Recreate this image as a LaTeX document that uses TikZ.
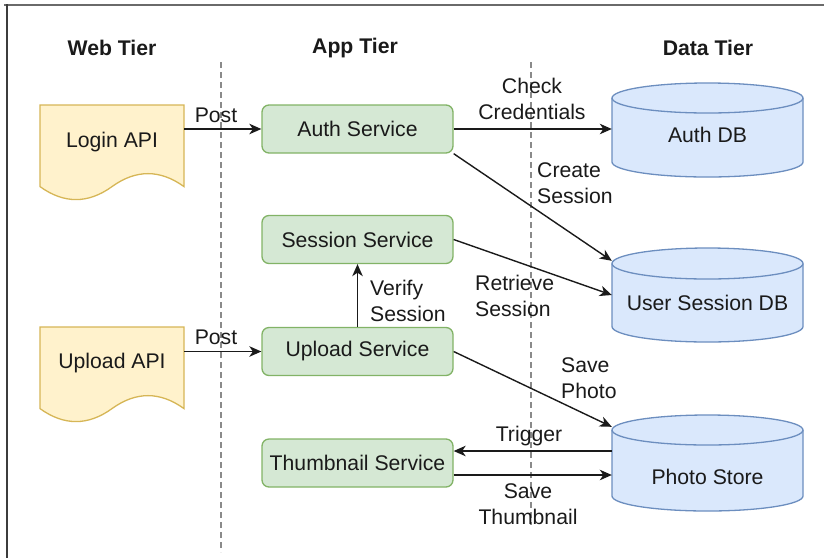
\documentclass[tikz,border=0pt]{standalone}
\usepackage{fontspec}
\setmainfont{Liberation Sans}
\usetikzlibrary{arrows.meta,calc}

\definecolor{docfill}{HTML}{FFF2CC}
\definecolor{docline}{HTML}{D6B656}
\definecolor{svcfill}{HTML}{D5E8D4}
\definecolor{svcline}{HTML}{82B366}
\definecolor{dbfill}{HTML}{DAE8FC}
\definecolor{dbline}{HTML}{6C8EBF}
\definecolor{ink}{HTML}{1A1A1A}
\definecolor{tierline}{HTML}{8A8A8A}
\definecolor{framegray}{HTML}{6A6A6A}

% document (wavy-bottom) shape, 144 x 96, left edge at x=40, top at the scope origin
\newcommand{\docpath}{%
  (40,0) -- (184,0) -- (184,81.6)
  .. controls (160,64.3) and (136,64.3) .. (112,81.6)
  .. controls (88,98.9) and (64,98.9) .. (40,81.6) -- cycle}

% database cylinder: left, top, width, height, half-height of the ellipse
\newcommand{\dbcyl}[5]{%
  \filldraw[fill=dbfill, draw=dbline, line width=1.3pt]
    (#1,#2+#5) -- (#1,#2+#4-#5)
    arc[start angle=180, end angle=0, x radius=#3/2, y radius=#5]
    -- (#1+#3,#2+#5)
    arc[start angle=0, end angle=-180, x radius=#3/2, y radius=#5] -- cycle;
  \draw[draw=dbline, line width=1.3pt]
    (#1,#2+#5) arc[start angle=180, end angle=0, x radius=#3/2, y radius=#5];
}

\tikzset{
  txt/.style={font=\fontsize{21.2}{25.5}\selectfont, text=ink, inner sep=0pt},
  tier/.style={txt, font=\fontsize{21.2}{25.5}\selectfont\bfseries},
  svc/.style={txt, draw=svcline, fill=svcfill, line width=1.3pt,
    rounded corners=7pt, minimum width=191pt, minimum height=48pt},
  area/.style={inner sep=0pt, minimum width=#1},
  lblc/.style={txt, align=center},
  lbll/.style={txt, align=left, anchor=west},
  arr/.style={draw=ink, line width=1.4pt,
    -{Stealth[length=12pt, width=10.5pt, inset=3.5pt]}},
  divider/.style={draw=tierline, line width=1.4pt, dash pattern=on 6pt off 4pt},
}

\begin{document}
\begin{tikzpicture}[x=1pt, y=-1pt]
\useasboundingbox (0,0) rectangle (824,558);

% outer frame (top and left edges)
\draw[framegray, line width=2pt] (4,5) -- (824,5);
\draw[ink!85, line width=2pt] (6.5,4) -- (6.5,558);

% tier headings
\node[tier] (hweb)  at (112,48)   {Web Tier};
\node[tier] (happ)  at (355,48)   {App Tier};
\node[tier] (hdata) at (708,48)   {Data Tier};

% tier dividers
\draw[divider] (221,62) -- (221,552);
\draw[divider] (531,62) -- (531,525);

% web tier documents
\begin{scope}[shift={(0,105)}]
  \filldraw[fill=docfill, draw=docline, line width=1.3pt] \docpath;
\end{scope}
\begin{scope}[shift={(0,327)}]
  \filldraw[fill=docfill, draw=docline, line width=1.3pt] \docpath;
\end{scope}
\node[area=144pt, minimum height=96pt] (login)  at (112,153) {};
\node[area=144pt, minimum height=96pt] (upapi)  at (112,375) {};
\node[txt] (loginlbl) at (112,142) {Login API};
\node[txt] (upapilbl) at (112,363) {Upload API};

% app tier services
\node[svc] (auth)    at (357.5,129)   {Auth Service};
\node[svc] (session) at (357.5,239.5) {Session Service};
\node[svc] (upsvc)   at (357.5,351.5) {Upload Service};
\node[svc] (thumb)   at (357.5,463)   {Thumbnail Service};

% data tier stores
\dbcyl{612}{83}{191}{94}{15}
\dbcyl{612}{248}{191}{94}{15.5}
\dbcyl{612}{415}{191}{96}{15}
\node[area=191pt, minimum height=94pt] (authdb) at (707.5,130) {};
\node[area=191pt, minimum height=94pt] (usdb)   at (707.5,295) {};
\node[area=191pt, minimum height=96pt] (photo)  at (707.5,463) {};
\node[txt] (authdblbl) at (707.5,135) {Auth DB};
\node[txt] (usdblbl)   at (707.5,303) {User Session DB};
\node[txt] (photolbl)  at (707.5,477) {Photo Store};

% connectors
\draw[arr] (login.east |- auth.west) -- (auth.west);
\draw[arr] (upapi.east |- upsvc.west) -- (upsvc.west);
\draw[arr] (auth.east) -- (authdb.west |- auth.east);
\draw[arr] (auth.south east) -- ($(usdb.north west)+(0,13)$);
\draw[arr] (session.east) -- (usdb.west);
\draw[arr] (upsvc.north) -- (session.south);
\draw[arr] (upsvc.east) -- ($(photo.north west)+(0,12)$);
\coordinate (trigR) at ($(thumb.east)+(0,-12)$);
\coordinate (saveR) at ($(thumb.east)+(0,12)$);
\draw[arr] (photo.west |- trigR) -- (trigR);
\draw[arr] (saveR) -- (photo.west |- saveR);

% connector labels
\node[txt] (post1) at (216,115) {Post};
\node[txt] (post2) at (216,337) {Post};
\node[lblc] (lcheck)  at (532,99)  {Check\\Credentials};
\node[lbll] (lcreate) at (537,183) {Create\\Session};
\node[lbll] (lretr)   at (475,296) {Retrieve\\Session};
\node[lbll] (lverify) at (370,301) {Verify\\Session};
\node[lbll] (lsave)   at (561,378) {Save\\Photo};
\node[txt]  (ltrig)   at (529,436) {Trigger};
\node[lblc] (lsavet)  at (528,504) {Save\\Thumbnail};
\end{tikzpicture}
\end{document}
